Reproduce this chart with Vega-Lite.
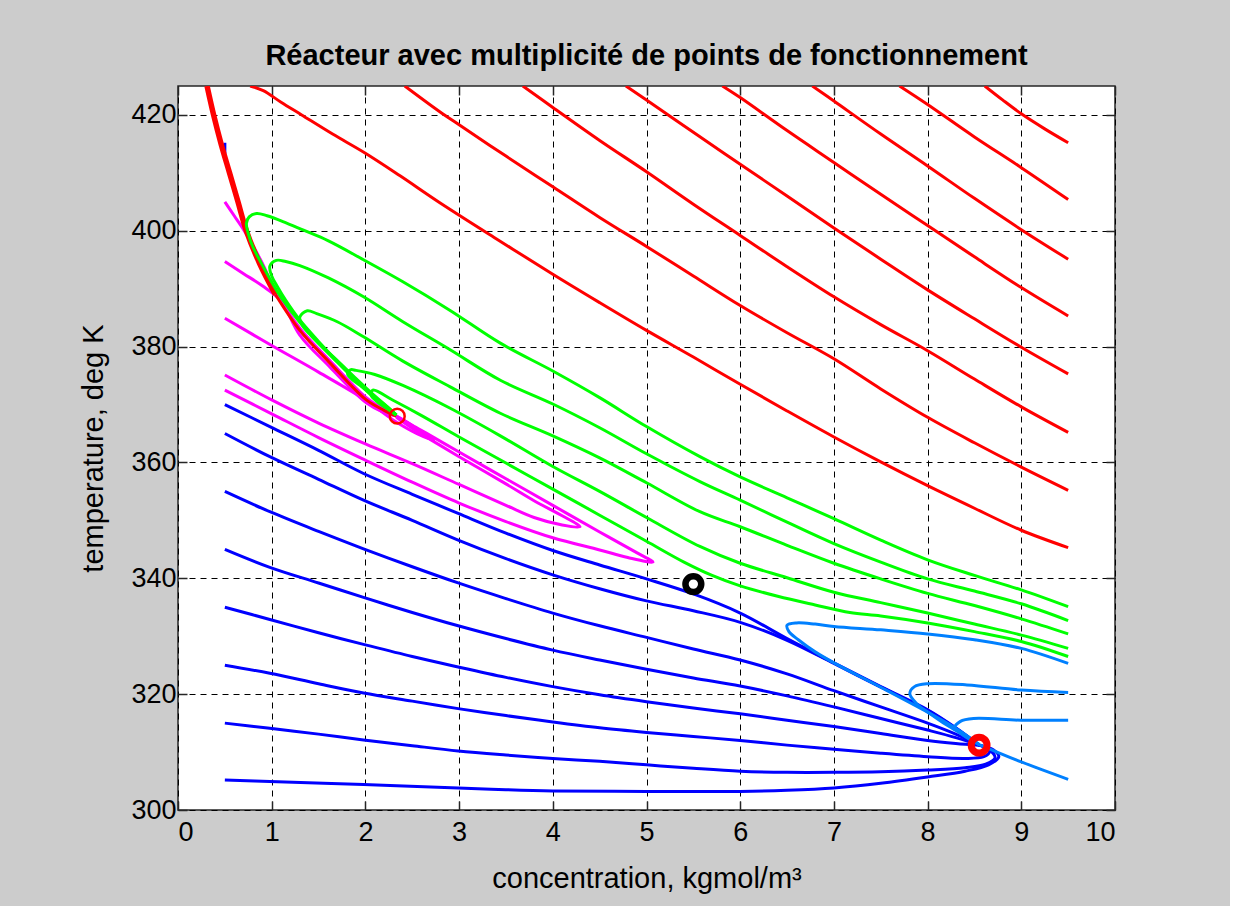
{
  "$schema": "https://vega.github.io/schema/vega-lite/v6.json",
  "autosize": "none",
  "width": 937,
  "height": 724,
  "padding": {"left": 178, "top": 86, "right": 115, "bottom": 96},
  "background": "#cccccc",
  "title": {
    "text": "Réacteur avec multiplicité de points de fonctionnement",
    "font": "Liberation Sans",
    "fontSize": 29,
    "fontWeight": "bold",
    "color": "#000000",
    "anchor": "middle",
    "offset": 14
  },
  "datasets": {
    "bleues": [
      {"c":"b415","x":0.5,"T":415.2},{"c":"b415","x":0.5,"T":413.3},
      {"c":"b370","x":0.5,"T":370},{"c":"b370","x":0.98,"T":366.2},{"c":"b370","x":1.5,"T":362.1},{"c":"b370","x":1.98,"T":358.1},{"c":"b370","x":2.5,"T":354.5},{"c":"b370","x":2.99,"T":351.2},{"c":"b370","x":3.5,"T":347.8},{"c":"b370","x":4,"T":344.8},{"c":"b370","x":4.5,"T":342.3},{"c":"b370","x":5,"T":339.9},{"c":"b370","x":5.5,"T":337.3},{"c":"b370","x":6,"T":334},{"c":"b370","x":6.5,"T":329.6},{"c":"b370","x":7,"T":325.4},{"c":"b370","x":7.5,"T":321.3},{"c":"b370","x":8,"T":317.3},{"c":"b370","x":8.3,"T":314.2},{"c":"b370","x":8.55,"T":311.2},
      {"c":"b365","x":0.5,"T":365},{"c":"b365","x":0.98,"T":361},{"c":"b365","x":1.5,"T":357.1},{"c":"b365","x":1.98,"T":353.5},{"c":"b365","x":2.5,"T":350},{"c":"b365","x":2.99,"T":346.6},{"c":"b365","x":3.5,"T":343.4},{"c":"b365","x":4,"T":340.6},{"c":"b365","x":4.5,"T":338.2},{"c":"b365","x":5,"T":336.1},{"c":"b365","x":5.5,"T":334.4},{"c":"b365","x":6,"T":332.4},{"c":"b365","x":6.5,"T":329.3},{"c":"b365","x":7,"T":325.3},{"c":"b365","x":7.5,"T":321.2},{"c":"b365","x":8,"T":317.2},{"c":"b365","x":8.3,"T":314.1},{"c":"b365","x":8.55,"T":311.2},
      {"c":"b355","x":0.5,"T":355},{"c":"b355","x":0.98,"T":351.5},{"c":"b355","x":1.5,"T":348.1},{"c":"b355","x":1.98,"T":345.1},{"c":"b355","x":2.5,"T":342},{"c":"b355","x":2.99,"T":339.2},{"c":"b355","x":3.5,"T":336.5},{"c":"b355","x":4,"T":334},{"c":"b355","x":4.5,"T":331.8},{"c":"b355","x":5,"T":329.8},{"c":"b355","x":5.5,"T":327.8},{"c":"b355","x":6,"T":325.9},{"c":"b355","x":6.5,"T":323.5},{"c":"b355","x":7,"T":320.6},{"c":"b355","x":7.5,"T":317.8},{"c":"b355","x":8,"T":315},{"c":"b355","x":8.3,"T":313.1},{"c":"b355","x":8.55,"T":311.2},
      {"c":"b345","x":0.5,"T":345},{"c":"b345","x":0.98,"T":341.9},{"c":"b345","x":1.5,"T":339.2},{"c":"b345","x":1.98,"T":336.7},{"c":"b345","x":2.5,"T":334.1},{"c":"b345","x":2.99,"T":331.8},{"c":"b345","x":3.5,"T":329.6},{"c":"b345","x":4,"T":327.6},{"c":"b345","x":4.5,"T":325.9},{"c":"b345","x":5,"T":324.3},{"c":"b345","x":5.5,"T":322.8},{"c":"b345","x":6,"T":321.4},{"c":"b345","x":6.5,"T":319.7},{"c":"b345","x":7,"T":317.8},{"c":"b345","x":7.5,"T":315.8},{"c":"b345","x":8,"T":313.8},{"c":"b345","x":8.3,"T":312.5},{"c":"b345","x":8.55,"T":311.2},
      {"c":"b335","x":0.5,"T":335},{"c":"b335","x":0.98,"T":332.9},{"c":"b335","x":1.5,"T":330.6},{"c":"b335","x":1.98,"T":328.6},{"c":"b335","x":2.5,"T":326.5},{"c":"b335","x":2.99,"T":324.7},{"c":"b335","x":3.5,"T":322.9},{"c":"b335","x":4,"T":321.3},{"c":"b335","x":4.5,"T":319.9},{"c":"b335","x":5,"T":318.7},{"c":"b335","x":5.5,"T":317.6},{"c":"b335","x":6,"T":316.6},{"c":"b335","x":6.5,"T":315.5},{"c":"b335","x":7,"T":314.4},{"c":"b335","x":7.5,"T":313.2},{"c":"b335","x":8,"T":312},{"c":"b335","x":8.3,"T":311.5},{"c":"b335","x":8.55,"T":311.2},
      {"c":"b325","x":0.5,"T":325},{"c":"b325","x":0.98,"T":323.6},{"c":"b325","x":1.5,"T":321.8},{"c":"b325","x":1.98,"T":320.2},{"c":"b325","x":2.5,"T":318.8},{"c":"b325","x":2.99,"T":317.5},{"c":"b325","x":3.5,"T":316.3},{"c":"b325","x":4,"T":315.2},{"c":"b325","x":4.5,"T":314.2},{"c":"b325","x":5,"T":313.4},{"c":"b325","x":5.5,"T":312.7},{"c":"b325","x":6,"T":312},{"c":"b325","x":6.5,"T":311.2},{"c":"b325","x":7,"T":310.5},{"c":"b325","x":7.5,"T":309.8},{"c":"b325","x":8,"T":309.2},{"c":"b325","x":8.4,"T":308.9},{"c":"b325","x":8.6,"T":309.2},{"c":"b325","x":8.66,"T":310},{"c":"b325","x":8.62,"T":310.8},{"c":"b325","x":8.55,"T":311.2},
      {"c":"b315","x":0.5,"T":315},{"c":"b315","x":0.98,"T":314.1},{"c":"b315","x":1.5,"T":313.1},{"c":"b315","x":1.98,"T":312.1},{"c":"b315","x":2.5,"T":311.1},{"c":"b315","x":2.99,"T":310.2},{"c":"b315","x":3.5,"T":309.5},{"c":"b315","x":4,"T":308.9},{"c":"b315","x":4.5,"T":308.4},{"c":"b315","x":5,"T":307.8},{"c":"b315","x":5.5,"T":307.2},{"c":"b315","x":6,"T":306.7},{"c":"b315","x":6.5,"T":306.5},{"c":"b315","x":7,"T":306.5},{"c":"b315","x":7.5,"T":306.6},{"c":"b315","x":8,"T":306.9},{"c":"b315","x":8.4,"T":307.3},{"c":"b315","x":8.62,"T":307.9},{"c":"b315","x":8.72,"T":309},{"c":"b315","x":8.66,"T":310.4},{"c":"b315","x":8.55,"T":311.2},
      {"c":"b305","x":0.5,"T":305.2},{"c":"b305","x":0.98,"T":304.9},{"c":"b305","x":1.98,"T":304.4},{"c":"b305","x":2.99,"T":303.8},{"c":"b305","x":3.5,"T":303.5},{"c":"b305","x":4,"T":303.3},{"c":"b305","x":5,"T":303.2},{"c":"b305","x":6,"T":303.2},{"c":"b305","x":6.5,"T":303.4},{"c":"b305","x":7,"T":303.8},{"c":"b305","x":7.5,"T":304.6},{"c":"b305","x":8,"T":305.7},{"c":"b305","x":8.4,"T":306.7},{"c":"b305","x":8.65,"T":307.8},{"c":"b305","x":8.76,"T":309.2},{"c":"b305","x":8.7,"T":310.4},{"c":"b305","x":8.55,"T":311.2}
    ],
    "bleuesClaires": [
      {"c":"l325","x":9.5,"T":325.3},{"c":"l325","x":9,"T":327.9},{"c":"l325","x":8.5,"T":329.4},{"c":"l325","x":8,"T":330.4},{"c":"l325","x":7.5,"T":331.1},{"c":"l325","x":7,"T":331.7},{"c":"l325","x":6.8,"T":332.1},{"c":"l325","x":6.6,"T":332.3},{"c":"l325","x":6.5,"T":331.9},{"c":"l325","x":6.52,"T":330.8},{"c":"l325","x":6.62,"T":329.4},{"c":"l325","x":6.8,"T":327.3},{"c":"l325","x":7,"T":325.4},{"c":"l325","x":7.5,"T":321.2},{"c":"l325","x":8,"T":316.9},{"c":"l325","x":8.3,"T":314.1},{"c":"l325","x":8.55,"T":311.3},
      {"c":"l320","x":9.5,"T":320.3},{"c":"l320","x":9,"T":320.7},{"c":"l320","x":8.42,"T":321.6},{"c":"l320","x":8,"T":321.8},{"c":"l320","x":7.86,"T":321.3},{"c":"l320","x":7.81,"T":320.1},{"c":"l320","x":7.88,"T":318.4},{"c":"l320","x":8.02,"T":316.7},{"c":"l320","x":8.2,"T":314.7},{"c":"l320","x":8.4,"T":312.8},{"c":"l320","x":8.55,"T":311.3},
      {"c":"l315","x":9.5,"T":315.5},{"c":"l315","x":9,"T":315.5},{"c":"l315","x":8.49,"T":315.8},{"c":"l315","x":8.35,"T":315.3},{"c":"l315","x":8.29,"T":314.2},{"c":"l315","x":8.38,"T":312.9},{"c":"l315","x":8.55,"T":311.3},
      {"c":"l305","x":9.5,"T":305.3},{"c":"l305","x":9,"T":308.3},{"c":"l305","x":8.55,"T":311.3}
    ],
    "magenta": [
      {"c":"m405","x":0.5,"T":405},{"c":"m405","x":0.6,"T":402.6},{"c":"m405","x":0.7,"T":400.2},{"c":"m405","x":0.8,"T":397.4},{"c":"m405","x":0.9,"T":394.4},{"c":"m405","x":1.04,"T":389.6},{"c":"m405","x":1.3,"T":383.2},{"c":"m405","x":1.62,"T":377.6},{"c":"m405","x":2.01,"T":371.2},{"c":"m405","x":2.2,"T":369.2},{"c":"m405","x":2.33,"T":368.2},
      {"c":"m395","x":0.5,"T":394.7},{"c":"m395","x":0.7,"T":392.6},{"c":"m395","x":0.9,"T":390.5},{"c":"m395","x":1.1,"T":387.9},{"c":"m395","x":1.3,"T":382},{"c":"m395","x":1.62,"T":376.5},{"c":"m395","x":2.01,"T":370.3},{"c":"m395","x":2.2,"T":368.6},{"c":"m395","x":2.33,"T":368},
      {"c":"m385","x":0.5,"T":384.9},{"c":"m385","x":1,"T":380.2},{"c":"m385","x":1.5,"T":375.6},{"c":"m385","x":2,"T":370.8},{"c":"m385","x":2.3,"T":367.3},{"c":"m385","x":2.55,"T":365},{"c":"m385","x":2.73,"T":363.9},{"c":"m385","x":2.62,"T":365},{"c":"m385","x":2.48,"T":366.6},{"c":"m385","x":2.33,"T":368},
      {"c":"m375","x":0.5,"T":375.1},{"c":"m375","x":1,"T":370.8},{"c":"m375","x":1.5,"T":366.8},{"c":"m375","x":2,"T":363.2},{"c":"m375","x":2.5,"T":359.8},{"c":"m375","x":3,"T":356.2},{"c":"m375","x":3.5,"T":352.6},{"c":"m375","x":3.8,"T":350.5},{"c":"m375","x":4.1,"T":349.2},{"c":"m375","x":4.29,"T":348.9},{"c":"m375","x":4.1,"T":350.8},{"c":"m375","x":3.8,"T":353.4},{"c":"m375","x":3.5,"T":356.3},{"c":"m375","x":3,"T":361},{"c":"m375","x":2.7,"T":363.9},{"c":"m375","x":2.5,"T":365.9},{"c":"m375","x":2.33,"T":367.8},
      {"c":"m372","x":0.5,"T":372.5},{"c":"m372","x":1,"T":368.4},{"c":"m372","x":1.5,"T":364.3},{"c":"m372","x":2,"T":360.4},{"c":"m372","x":2.5,"T":356.6},{"c":"m372","x":3,"T":353},{"c":"m372","x":3.5,"T":349.8},{"c":"m372","x":4,"T":347},{"c":"m372","x":4.5,"T":344.9},{"c":"m372","x":4.8,"T":343.6},{"c":"m372","x":5.07,"T":342.8},{"c":"m372","x":4.9,"T":344.4},{"c":"m372","x":4.5,"T":348},{"c":"m372","x":4,"T":352.6},{"c":"m372","x":3.5,"T":357.2},{"c":"m372","x":3,"T":361.8},{"c":"m372","x":2.7,"T":364.6},{"c":"m372","x":2.5,"T":366.4},{"c":"m372","x":2.33,"T":368}
    ],
    "rouges": [
      {"c":"A","x":8.61,"T":425},{"c":"A","x":8.8,"T":422.6},{"c":"A","x":9,"T":420.2},{"c":"A","x":9.25,"T":417.6},{"c":"A","x":9.5,"T":415.2},
      {"c":"B","x":7.7,"T":425},{"c":"B","x":8,"T":421.8},{"c":"B","x":8.5,"T":416.2},{"c":"B","x":9,"T":410.9},{"c":"B","x":9.5,"T":405.4},
      {"c":"C","x":6.77,"T":425},{"c":"C","x":7,"T":422.4},{"c":"C","x":7.5,"T":416.7},{"c":"C","x":8,"T":411.2},{"c":"C","x":8.5,"T":405.6},{"c":"C","x":9,"T":400.2},{"c":"C","x":9.5,"T":395.1},
      {"c":"D","x":5.81,"T":425},{"c":"D","x":6,"T":423},{"c":"D","x":6.5,"T":417.3},{"c":"D","x":7,"T":411.8},{"c":"D","x":7.5,"T":406.3},{"c":"D","x":8,"T":400.9},{"c":"D","x":8.5,"T":395.5},{"c":"D","x":9,"T":390.2},{"c":"D","x":9.5,"T":385.3},
      {"c":"E","x":4.78,"T":425},{"c":"E","x":5,"T":422.6},{"c":"E","x":5.5,"T":417},{"c":"E","x":6,"T":411.5},{"c":"E","x":6.5,"T":406},{"c":"E","x":7,"T":400.5},{"c":"E","x":7.5,"T":395.1},{"c":"E","x":8,"T":389.8},{"c":"E","x":8.5,"T":384.8},{"c":"E","x":9,"T":379.9},{"c":"E","x":9.5,"T":375.3},
      {"c":"F","x":3.68,"T":425},{"c":"F","x":4,"T":421.3},{"c":"F","x":4.5,"T":415.6},{"c":"F","x":5,"T":410.2},{"c":"F","x":5.5,"T":404.6},{"c":"F","x":6,"T":399.2},{"c":"F","x":6.5,"T":393.8},{"c":"F","x":7,"T":388.6},{"c":"F","x":7.5,"T":383.8},{"c":"F","x":8,"T":379.3},{"c":"F","x":8.5,"T":374.4},{"c":"F","x":9,"T":369.6},{"c":"F","x":9.5,"T":365.2},
      {"c":"G","x":2.42,"T":425},{"c":"G","x":2.79,"T":420.6},{"c":"G","x":3,"T":418.3},{"c":"G","x":3.5,"T":412.9},{"c":"G","x":4,"T":407.6},{"c":"G","x":4.5,"T":402.3},{"c":"G","x":5,"T":397.3},{"c":"G","x":5.5,"T":392.2},{"c":"G","x":6,"T":387.1},{"c":"G","x":6.5,"T":382.4},{"c":"G","x":7,"T":377.9},{"c":"G","x":7.5,"T":372.7},{"c":"G","x":8,"T":367.8},{"c":"G","x":8.5,"T":363.4},{"c":"G","x":9,"T":359.2},{"c":"G","x":9.5,"T":355.2},
      {"c":"H","x":0.77,"T":425},{"c":"H","x":0.91,"T":424.2},{"c":"H","x":1.1,"T":422.2},{"c":"H","x":1.32,"T":420},{"c":"H","x":1.65,"T":416.7},{"c":"H","x":2,"T":413.4},{"c":"H","x":2.37,"T":409.5},{"c":"H","x":2.79,"T":404.9},{"c":"H","x":3.4,"T":398.6},{"c":"H","x":4,"T":392.5},{"c":"H","x":4.5,"T":387.6},{"c":"H","x":5,"T":382.8},{"c":"H","x":5.5,"T":378.2},{"c":"H","x":6,"T":373.5},{"c":"H","x":6.5,"T":368.9},{"c":"H","x":7,"T":364.4},{"c":"H","x":7.5,"T":360.1},{"c":"H","x":8,"T":356},{"c":"H","x":8.5,"T":352.1},{"c":"H","x":9,"T":348.3},{"c":"H","x":9.5,"T":345.3},
      {"c":"S","x":1.04,"T":389},{"c":"S","x":1.3,"T":382.8},{"c":"S","x":1.62,"T":377.2},{"c":"S","x":2.01,"T":370.8},{"c":"S","x":2.2,"T":369},{"c":"S","x":2.33,"T":368}
    ],
    "separatrice": [
      {"c":"S0","x":0.31,"T":425},{"c":"S0","x":0.38,"T":420},{"c":"S0","x":0.46,"T":415},{"c":"S0","x":0.55,"T":410},{"c":"S0","x":0.64,"T":405},{"c":"S0","x":0.73,"T":400},{"c":"S0","x":0.87,"T":394.4},{"c":"S0","x":1.04,"T":389}
    ],
    "vertes": [
      {"c":"g1","x":9.5,"T":335.1},{"c":"g1","x":9,"T":338},{"c":"g1","x":8.5,"T":340.5},{"c":"g1","x":8,"T":343.2},{"c":"g1","x":7.5,"T":346.6},{"c":"g1","x":7,"T":350.3},{"c":"g1","x":6.5,"T":353.9},{"c":"g1","x":6,"T":357.5},{"c":"g1","x":5.57,"T":361},{"c":"g1","x":5,"T":366.2},{"c":"g1","x":4.5,"T":371.2},{"c":"g1","x":4,"T":375.8},{"c":"g1","x":3.44,"T":380.6},{"c":"g1","x":2.9,"T":386.3},{"c":"g1","x":2.4,"T":391.2},{"c":"g1","x":1.98,"T":395},{"c":"g1","x":1.6,"T":398.3},{"c":"g1","x":1.34,"T":400.1},{"c":"g1","x":1.12,"T":401.6},{"c":"g1","x":0.95,"T":402.6},{"c":"g1","x":0.84,"T":403},{"c":"g1","x":0.76,"T":402.4},{"c":"g1","x":0.73,"T":401.3},{"c":"g1","x":0.75,"T":399.5},{"c":"g1","x":0.8,"T":397.2},{"c":"g1","x":0.88,"T":394.7},{"c":"g1","x":0.98,"T":391.7},{"c":"g1","x":1.1,"T":388.5},{"c":"g1","x":1.3,"T":384.2},{"c":"g1","x":1.5,"T":380.6},{"c":"g1","x":1.7,"T":377.3},{"c":"g1","x":1.9,"T":374.1},{"c":"g1","x":2.1,"T":371.1},{"c":"g1","x":2.25,"T":369.2},{"c":"g1","x":2.33,"T":368.2},
      {"c":"g2","x":9.5,"T":332.7},{"c":"g2","x":9,"T":335.6},{"c":"g2","x":8.5,"T":337.8},{"c":"g2","x":8,"T":339.9},{"c":"g2","x":7.5,"T":342.8},{"c":"g2","x":7,"T":346},{"c":"g2","x":6.5,"T":349.7},{"c":"g2","x":6,"T":353.5},{"c":"g2","x":5.57,"T":356.7},{"c":"g2","x":5,"T":361.5},{"c":"g2","x":4.5,"T":366},{"c":"g2","x":4,"T":370.1},{"c":"g2","x":3.44,"T":374.2},{"c":"g2","x":2.9,"T":379.5},{"c":"g2","x":2.4,"T":384.3},{"c":"g2","x":1.98,"T":388.6},{"c":"g2","x":1.6,"T":391.9},{"c":"g2","x":1.3,"T":394},{"c":"g2","x":1.15,"T":394.7},{"c":"g2","x":1.05,"T":394.9},{"c":"g2","x":0.98,"T":393.9},{"c":"g2","x":1,"T":392.2},{"c":"g2","x":1.06,"T":390.4},{"c":"g2","x":1.15,"T":388},{"c":"g2","x":1.3,"T":384.6},{"c":"g2","x":1.5,"T":380.9},{"c":"g2","x":1.7,"T":377.5},{"c":"g2","x":1.9,"T":374.3},{"c":"g2","x":2.1,"T":371.3},{"c":"g2","x":2.25,"T":369.3},{"c":"g2","x":2.33,"T":368.2},
      {"c":"g3","x":9.5,"T":330.4},{"c":"g3","x":9,"T":333},{"c":"g3","x":8.5,"T":335.3},{"c":"g3","x":8,"T":337.4},{"c":"g3","x":7.5,"T":339.9},{"c":"g3","x":7,"T":342.6},{"c":"g3","x":6.5,"T":345.7},{"c":"g3","x":6,"T":348.9},{"c":"g3","x":5.57,"T":351.5},{"c":"g3","x":5,"T":356.5},{"c":"g3","x":4.5,"T":360.8},{"c":"g3","x":4,"T":364.6},{"c":"g3","x":3.44,"T":368.5},{"c":"g3","x":2.9,"T":373.1},{"c":"g3","x":2.4,"T":377.5},{"c":"g3","x":1.98,"T":381.7},{"c":"g3","x":1.7,"T":384.3},{"c":"g3","x":1.48,"T":385.7},{"c":"g3","x":1.38,"T":386.2},{"c":"g3","x":1.3,"T":385.1},{"c":"g3","x":1.33,"T":383.6},{"c":"g3","x":1.42,"T":381.9},{"c":"g3","x":1.55,"T":379.8},{"c":"g3","x":1.7,"T":377.6},{"c":"g3","x":1.9,"T":374.5},{"c":"g3","x":2.1,"T":371.5},{"c":"g3","x":2.25,"T":369.4},{"c":"g3","x":2.33,"T":368.2},
      {"c":"g4","x":9.5,"T":327.9},{"c":"g4","x":9,"T":330.2},{"c":"g4","x":8.5,"T":332.1},{"c":"g4","x":8,"T":334},{"c":"g4","x":7.5,"T":335.8},{"c":"g4","x":7,"T":337.6},{"c":"g4","x":6.5,"T":340.1},{"c":"g4","x":6,"T":342.6},{"c":"g4","x":5.57,"T":345.5},{"c":"g4","x":5,"T":350.5},{"c":"g4","x":4.5,"T":355},{"c":"g4","x":4,"T":359.3},{"c":"g4","x":3.44,"T":364.6},{"c":"g4","x":2.9,"T":369.4},{"c":"g4","x":2.4,"T":373.3},{"c":"g4","x":2.1,"T":375.2},{"c":"g4","x":1.9,"T":375.9},{"c":"g4","x":1.84,"T":376},{"c":"g4","x":1.81,"T":375.3},{"c":"g4","x":1.86,"T":374.3},{"c":"g4","x":1.96,"T":373.1},{"c":"g4","x":2.1,"T":371.3},{"c":"g4","x":2.25,"T":369.4},{"c":"g4","x":2.33,"T":368.2},
      {"c":"g5","x":9.5,"T":326.5},{"c":"g5","x":9,"T":329.1},{"c":"g5","x":8.5,"T":330.8},{"c":"g5","x":8,"T":332.3},{"c":"g5","x":7.5,"T":333.5},{"c":"g5","x":7.17,"T":334.1},{"c":"g5","x":6.8,"T":335.4},{"c":"g5","x":6.4,"T":336.9},{"c":"g5","x":6,"T":338.7},{"c":"g5","x":5.7,"T":340.5},{"c":"g5","x":5.4,"T":342.8},{"c":"g5","x":5,"T":346.4},{"c":"g5","x":4.5,"T":350.9},{"c":"g5","x":4,"T":355.4},{"c":"g5","x":3.5,"T":359.9},{"c":"g5","x":3,"T":364.4},{"c":"g5","x":2.6,"T":368.1},{"c":"g5","x":2.3,"T":370.7},{"c":"g5","x":2.08,"T":372.5},{"c":"g5","x":2.06,"T":371.6},{"c":"g5","x":2.14,"T":370.3},{"c":"g5","x":2.25,"T":369.1},{"c":"g5","x":2.33,"T":368.2}
    ],
    "etats": [
      {"nature":"stable haut","x":2.34,"T":368},
      {"nature":"instable","x":5.5,"T":339},
      {"nature":"stable bas","x":8.55,"T":311.2}
    ]
  },
  "resolve": {"axis": {"x": "independent", "y": "independent"}},
  "layer": [
    {
      "data": {"name": "bleues"},
      "transform": [{"window": [{"op": "row_number", "as": "i"}], "groupby": ["c"]}],
      "mark": {"type": "line", "color": "#0000ff", "strokeWidth": 3, "clip": true, "interpolate": "catmull-rom"},
      "encoding": {
        "x": {
          "field": "x", "type": "quantitative",
          "scale": {"domain": [0, 10], "nice": false, "zero": false},
          "axis": {
            "values": [0, 1, 2, 3, 4, 5, 6, 7, 8, 9, 10],
            "format": "d",
            "grid": true,
            "tickSize": -9,
            "labelPadding": 18,
            "title": "concentration, kgmol/m³",
            "titlePadding": 19
          }
        },
        "y": {
          "field": "T", "type": "quantitative",
          "scale": {"domain": [300, 425], "nice": false, "zero": false},
          "axis": {
            "values": [300, 320, 340, 360, 380, 400, 420],
            "format": "d",
            "grid": true,
            "tickSize": -9,
            "labelPadding": 11,
            "title": "temperature, deg K",
            "titlePadding": 22
          }
        },
        "detail": {"field": "c"},
        "order": {"field": "i", "type": "quantitative"}
      }
    },
    {
      "data": {"name": "bleuesClaires"},
      "transform": [{"window": [{"op": "row_number", "as": "i"}], "groupby": ["c"]}],
      "mark": {"type": "line", "color": "#0080ff", "strokeWidth": 3, "clip": true, "interpolate": "catmull-rom"},
      "encoding": {
        "x": {"field": "x", "type": "quantitative", "axis": null},
        "y": {"field": "T", "type": "quantitative", "axis": null},
        "detail": {"field": "c"},
        "order": {"field": "i", "type": "quantitative"}
      }
    },
    {
      "data": {"name": "magenta"},
      "transform": [{"window": [{"op": "row_number", "as": "i"}], "groupby": ["c"]}],
      "mark": {"type": "line", "color": "#ff00ff", "strokeWidth": 3, "clip": true, "interpolate": "catmull-rom"},
      "encoding": {
        "x": {"field": "x", "type": "quantitative", "axis": null},
        "y": {"field": "T", "type": "quantitative", "axis": null},
        "detail": {"field": "c"},
        "order": {"field": "i", "type": "quantitative"}
      }
    },
    {
      "data": {"name": "rouges"},
      "transform": [{"window": [{"op": "row_number", "as": "i"}], "groupby": ["c"]}],
      "mark": {"type": "line", "color": "#ff0000", "strokeWidth": 3, "clip": true, "interpolate": "catmull-rom"},
      "encoding": {
        "x": {"field": "x", "type": "quantitative", "axis": null},
        "y": {"field": "T", "type": "quantitative", "axis": null},
        "detail": {"field": "c"},
        "order": {"field": "i", "type": "quantitative"}
      }
    },
    {
      "data": {"name": "separatrice"},
      "transform": [{"window": [{"op": "row_number", "as": "i"}], "groupby": ["c"]}],
      "mark": {"type": "line", "color": "#ff0000", "strokeWidth": 5.5, "clip": true, "interpolate": "catmull-rom"},
      "encoding": {
        "x": {"field": "x", "type": "quantitative", "axis": null},
        "y": {"field": "T", "type": "quantitative", "axis": null},
        "detail": {"field": "c"},
        "order": {"field": "i", "type": "quantitative"}
      }
    },
    {
      "data": {"name": "vertes"},
      "transform": [{"window": [{"op": "row_number", "as": "i"}], "groupby": ["c"]}],
      "mark": {"type": "line", "color": "#00ff00", "strokeWidth": 3, "clip": true, "interpolate": "catmull-rom"},
      "encoding": {
        "x": {"field": "x", "type": "quantitative", "axis": null},
        "y": {"field": "T", "type": "quantitative", "axis": null},
        "detail": {"field": "c"},
        "order": {"field": "i", "type": "quantitative"}
      }
    },
    {
      "data": {"name": "etats"},
      "transform": [{"filter": "datum.nature === 'stable haut'"}],
      "mark": {"type": "point", "shape": "circle", "filled": false, "color": "#ff0000", "size": 220, "strokeWidth": 2.5, "opacity": 1},
      "encoding": {
        "x": {"field": "x", "type": "quantitative", "axis": null},
        "y": {"field": "T", "type": "quantitative", "axis": null}
      }
    },
    {
      "data": {"name": "etats"},
      "transform": [{"filter": "datum.nature === 'instable'"}],
      "mark": {"type": "point", "shape": "circle", "filled": false, "color": "#000000", "size": 250, "strokeWidth": 6.5, "opacity": 1},
      "encoding": {
        "x": {"field": "x", "type": "quantitative", "axis": null},
        "y": {"field": "T", "type": "quantitative", "axis": null}
      }
    },
    {
      "data": {"name": "etats"},
      "transform": [{"filter": "datum.nature === 'stable bas'"}],
      "mark": {"type": "point", "shape": "circle", "filled": false, "color": "#ff0000", "size": 250, "strokeWidth": 7, "opacity": 1},
      "encoding": {
        "x": {
          "field": "x", "type": "quantitative",
          "axis": {"orient": "top", "values": [0, 1, 2, 3, 4, 5, 6, 7, 8, 9, 10], "labels": false, "grid": false, "tickSize": -9, "title": null}
        },
        "y": {
          "field": "T", "type": "quantitative",
          "axis": {"orient": "right", "values": [300, 320, 340, 360, 380, 400, 420], "labels": false, "grid": false, "tickSize": -9, "title": null}
        }
      }
    }
  ],
  "config": {
    "view": {"fill": "#ffffff", "stroke": "#262626", "strokeWidth": 1.5},
    "axis": {
      "domain": false,
      "labelFont": "Liberation Sans",
      "labelFontSize": 27,
      "labelColor": "#000000",
      "titleFont": "Liberation Sans",
      "titleFontSize": 29,
      "titleFontWeight": "normal",
      "titleColor": "#000000",
      "tickColor": "#262626",
      "tickWidth": 1.5,
      "gridColor": "#000000",
      "gridOpacity": 1,
      "gridWidth": 1,
      "gridDash": [6, 5]
    },
    "line": {"strokeJoin": "round"}
  }
}
